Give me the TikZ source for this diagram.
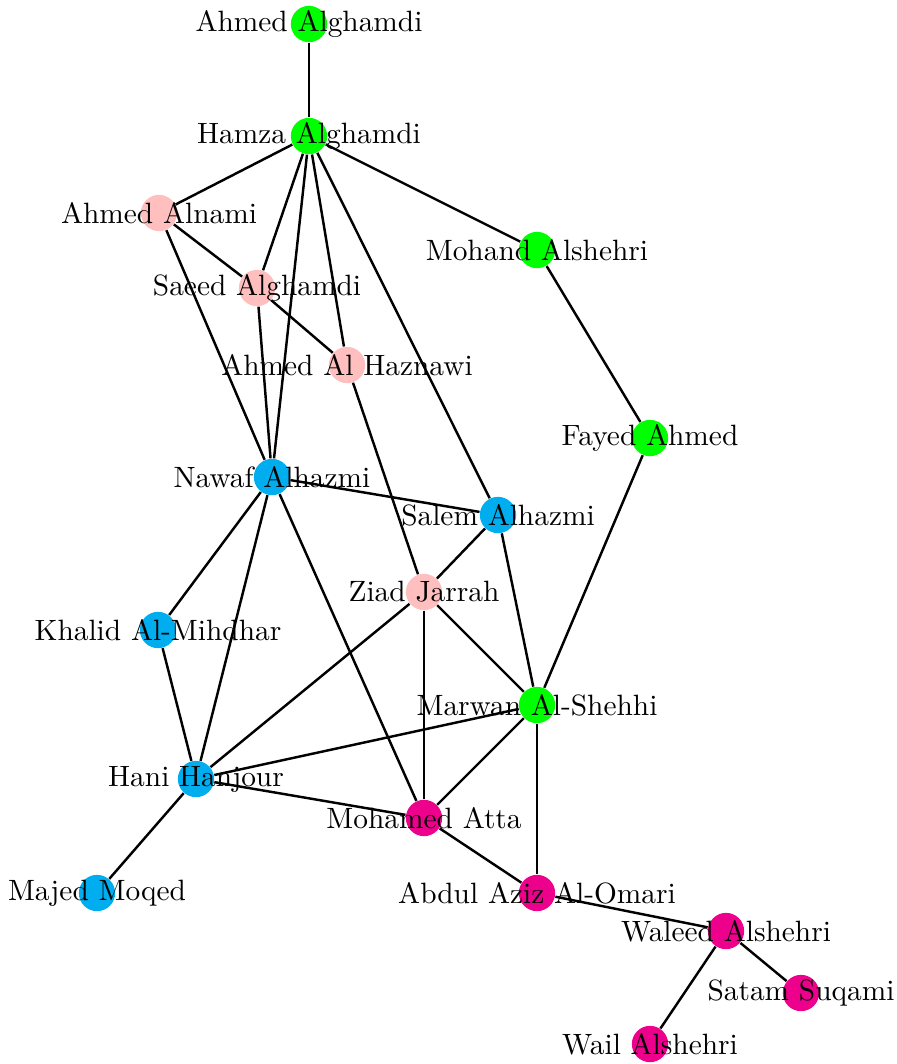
\documentclass[tikz,border=0pt]{standalone}
\begin{document}
\begin{tikzpicture}[x=0.3472pt,y=-0.3472pt,
  person/.style={circle,inner sep=0pt,minimum size=12.6pt,draw=none},
  green/.style={person,fill=cgreen},
  blue/.style={person,fill=cblue},
  pink/.style={person,fill=cpink},
  mag/.style={person,fill=cmag},
  lbl/.style={inner sep=0pt,font=\fontsize{10.2}{12}\selectfont},
  edge/.style={line width=0.85pt,black}]
\definecolor{cgreen}{HTML}{00FF00}
\definecolor{cblue}{HTML}{00AEEF}
\definecolor{cpink}{HTML}{FFBFBF}
\definecolor{cmag}{HTML}{EC008C}
\useasboundingbox (0,0) rectangle (896,1064);
\node[green] (aal) at (309,24) {};
\node[green] (ham) at (309,136) {};
\node[pink] (aan) at (159,213) {};
\node[green] (moh) at (537,250) {};
\node[pink] (sae) at (257,288) {};
\node[pink] (ahz) at (347,365) {};
\node[green] (fay) at (650,438) {};
\node[blue] (naw) at (272,477) {};
\node[blue] (sal) at (498,515) {};
\node[pink] (zia) at (424,592) {};
\node[blue] (kha) at (158,630) {};
\node[green] (mar) at (537,705) {};
\node[blue] (han) at (196,779) {};
\node[mag] (mat) at (424,818) {};
\node[blue] (maj) at (97,893) {};
\node[mag] (abd) at (537,893) {};
\node[mag] (wal) at (726,931) {};
\node[mag] (sat) at (801,993) {};
\node[mag] (wai) at (650,1044) {};
\foreach \a/\b in {aal/ham,ham/aan,ham/moh,ham/sae,ham/naw,ham/ahz,ham/sal,
  aan/sae,sae/ahz,aan/naw,sae/naw,moh/fay,fay/mar,ahz/zia,naw/sal,naw/kha,
  naw/han,naw/mat,sal/zia,sal/mar,zia/han,zia/mat,zia/mar,kha/han,mar/han,
  mar/mat,mar/abd,han/mat,han/maj,mat/abd,abd/wal,wal/sat,wal/wai}
  \draw[edge] (\a) -- (\b);
\node[lbl] (taal) at (aal.center) {Ahmed Alghamdi};
\node[lbl] (tham) at (ham.center) {Hamza Alghamdi};
\node[lbl] (taan) at (aan.center) {Ahmed Alnami};
\node[lbl] (tmoh) at (moh.center) {Mohand Alshehri};
\node[lbl] (tsae) at (sae.center) {Saeed Alghamdi};
\node[lbl] (tahz) at (ahz.center) {Ahmed Al Haznawi};
\node[lbl] (tfay) at (fay.center) {Fayed Ahmed};
\node[lbl] (tnaw) at (naw.center) {Nawaf Alhazmi};
\node[lbl] (tsal) at (sal.center) {Salem Alhazmi};
\node[lbl] (tzia) at (zia.center) {Ziad Jarrah};
\node[lbl] (tkha) at (kha.center) {Khalid Al-Mihdhar};
\node[lbl] (tmar) at (mar.center) {Marwan Al-Shehhi};
\node[lbl] (than) at (han.center) {Hani Hanjour};
\node[lbl] (tmat) at (mat.center) {Mohamed Atta};
\node[lbl] (tmaj) at (maj.center) {Majed Moqed};
\node[lbl] (tabd) at (abd.center) {Abdul Aziz Al-Omari};
\node[lbl] (twal) at (wal.center) {Waleed Alshehri};
\node[lbl] (tsat) at (sat.center) {Satam Suqami};
\node[lbl] (twai) at (wai.center) {Wail Alshehri};
\end{tikzpicture}
\end{document}
